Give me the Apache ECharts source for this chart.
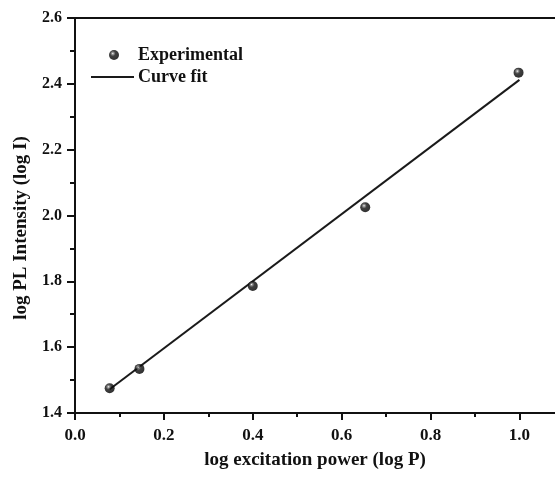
<!DOCTYPE html>
<html>
<head>
<meta charset="utf-8">
<script src="https://cdn.jsdelivr.net/npm/echarts@6/dist/echarts.min.js"></script>
<style>
html,body{margin:0;padding:0;background:#fff;}
#chart{width:555px;height:477px;}
</style>
</head>
<body>
<div id="chart"></div>
<script>
// Data
var expX = [0.078, 0.145, 0.400, 0.653, 0.998];
var expY = [1.475, 1.534, 1.786, 2.025, 2.434];
var fitX = [0.078, 1.0];
var fitY = [1.472, 2.412];
var xMajorTicks = [0, 0.2, 0.4, 0.6, 0.8, 1.0];
var xMinorTicks = [0.1, 0.3, 0.5, 0.7, 0.9];

var font = '"Liberation Serif", "Times New Roman", serif';
var ink = '#111';

var expData = expX.map(function (x, i) { return [x, expY[i]]; });
var fitData = fitX.map(function (x, i) { return [x, fitY[i]]; });

var sphere = {
  type: 'radial', x: 0.38, y: 0.35, r: 0.6,
  colorStops: [
    {offset: 0, color: '#ffffff'},
    {offset: 0.15, color: '#888888'},
    {offset: 0.45, color: '#111111'},
    {offset: 1, color: '#000000'}
  ]
};

var chart = echarts.init(document.getElementById('chart'), null, {renderer: 'canvas'});
chart.setOption({
  backgroundColor: '#fff',
  animation: false,
  grid: {left: 75, top: 18, right: 0, bottom: 64, containLabel: false},
  xAxis: [
    {
      type: 'value', min: 0, max: 1.08, position: 'bottom',
      name: 'log excitation power (log P)', nameLocation: 'middle', nameGap: 38,
      nameTextStyle: {fontFamily: font, fontWeight: 'bold', fontSize: 19, color: ink},
      axisLine: {show: true, onZero: false, lineStyle: {color: ink, width: 2}},
      axisTick: {show: true, customValues: xMajorTicks, length: 7, lineStyle: {color: ink, width: 2}},
      axisLabel: {show: true, customValues: xMajorTicks, margin: 14, fontFamily: font, fontWeight: 'bold', fontSize: 17, color: ink,
        formatter: function (v) { return v.toFixed(1); }},
      splitLine: {show: false}
    },
    {
      type: 'value', min: 0, max: 1.08, position: 'bottom', gridIndex: 0,
      axisLine: {show: false},
      axisTick: {show: true, customValues: xMinorTicks, length: 4, lineStyle: {color: ink, width: 2}},
      axisLabel: {show: false},
      splitLine: {show: false}
    },
    {
      type: 'value', min: 0, max: 1.08, position: 'top',
      axisLine: {show: true, onZero: false, lineStyle: {color: ink, width: 2}},
      axisTick: {show: false}, axisLabel: {show: false}, splitLine: {show: false}
    }
  ],
  yAxis: [
    {
      type: 'value', min: 1.4, max: 2.6, interval: 0.2,
      axisLine: {show: true, onZero: false, lineStyle: {color: ink, width: 2}},
      axisTick: {show: true, length: 8, lineStyle: {color: ink, width: 2}},
      minorTick: {show: true, splitNumber: 2, length: 5, lineStyle: {color: ink, width: 2}},
      axisLabel: {margin: 13, fontFamily: font, fontWeight: 'bold', fontSize: 16, color: ink,
        formatter: function (v) { return v.toFixed(1); }},
      splitLine: {show: false}
    }
  ],
  legend: [
    {
      data: [{name: 'Experimental', icon: 'circle'}], left: 109, top: 46, orient: 'vertical',
      itemWidth: 10, itemHeight: 10, itemGap: 5, padding: 0,
      textStyle: {fontFamily: font, fontWeight: 'bold', fontSize: 18, color: ink, padding: [0, 0, 0, 14]}
    },
    {
      data: [{name: 'Curve fit', icon: 'rect'}], left: 91, top: 68, orient: 'vertical',
      itemWidth: 43, itemHeight: 2, itemGap: 5, padding: 0,
      itemStyle: {color: '#1a1a1a'},
      textStyle: {fontFamily: font, fontWeight: 'bold', fontSize: 18, color: ink, padding: [0, 0, 0, -1]}
    }
  ],
  graphic: [
    {
      type: 'text', x: 21, y: 228, rotation: Math.PI / 2,
      style: {text: 'log PL Intensity (log I)', fontFamily: font, fontWeight: 'bold', fontSize: 19,
        fill: ink, align: 'center', verticalAlign: 'middle'}
    }
  ],
  series: [
    {
      name: 'Curve fit', type: 'line', data: fitData, symbol: 'none', showSymbol: false,
      lineStyle: {color: '#1a1a1a', width: 2}, itemStyle: {color: '#1a1a1a'}, z: 2
    },
    {
      name: 'Experimental', type: 'scatter', data: expData, symbol: 'circle', symbolSize: 10,
      itemStyle: {color: sphere}, z: 3
    }
  ]
});
</script>
</body>
</html>
